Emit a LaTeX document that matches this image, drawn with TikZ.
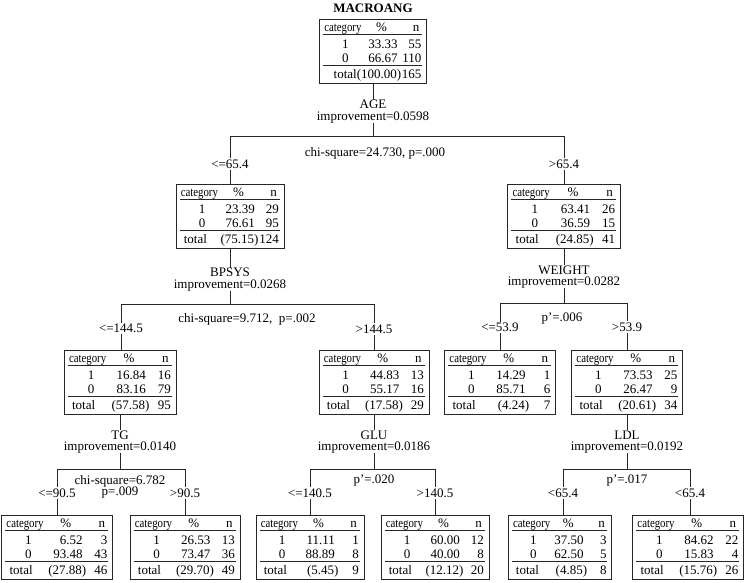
\documentclass[tikz,border=0pt]{standalone}
\usepackage{fontspec}
\setmainfont{Liberation Serif}
\usepackage{graphicx}
\tikzset{
  bx/.style={draw=black!85, line width=0.75pt, minimum height=64pt, inner sep=0pt, anchor=north},
  tx/.style={inner sep=0pt, font=\fontsize{13}{13}\selectfont},
  rl/.style={draw=black!85, line width=0.6pt},
  cn/.style={draw=black!85, line width=0.6pt},
  lab/.style={inner sep=0pt, font=\fontsize{13}{13}\selectfont, anchor=base},
  cond/.style={lab, fill=white, inner sep=1.5pt},
}
\def\totword{total}
\newcommand\cbox[9]{%
  \node[bx, minimum width=#3pt] (#1) at (#2) {};
  \begin{scope}[shift={(#1.north west)}]
    \pgfmathsetmacro\sc{#3/108}
    \node[tx, anchor=base west] (#1-c) at (5*\sc,12.5) {\scalebox{0.83}[1]{category}};
    \node[tx, anchor=base] (#1-o) at (26.5*\sc,29) {1};
    \node[tx, anchor=base] (#1-z) at (26.5*\sc,43) {0};
    \node[tx, anchor=base] (#1-ph) at (63*\sc,12.5) {\%};
    \node[tx, anchor=base east] (#1-p1) at (79.5*\sc,29) {#4};
    \node[tx, anchor=base east] (#1-p2) at (79.5*\sc,43) {#6};
    \node[tx, anchor=base] (#1-nh) at (98*\sc,12.5) {n};
    \node[tx, anchor=base east] (#1-n1) at (103.5*\sc,29) {#5};
    \node[tx, anchor=base east] (#1-n2) at (103.5*\sc,43) {#7};
    \node[tx, anchor=base west] (#1-t) at (8*\sc,59.5) {\totword};
    \node[tx, anchor=base east] (#1-tp) at (83*\sc,59.5) {#8};
    \node[tx, anchor=base east] (#1-tn) at (103.5*\sc,59.5) {#9};
    \draw[rl] (4,15.5) -- (#3-4,15.5);
    \draw[rl] (4,46.5) -- (#3-4,46.5);
  \end{scope}}
\begin{document}
\begin{tikzpicture}[x=1pt,y=-1pt]
\useasboundingbox (0,0) rectangle (745,582);
% root
\node[lab, font=\fontsize{13}{13}\selectfont\bfseries] (title) at (373,12.5) {MACROANG};
\def\totword{}
\cbox{R}{373,19}{107}{33.33}{55}{66.67}{110}{total(100.00)\hspace{2.5pt}}{165}
\def\totword{total}
% level 1
\cbox{A}{230,184}{108}{23.39}{29}{76.61}{95}{(75.15)}{124}
\cbox{B}{564,184}{113}{63.41}{26}{36.59}{15}{(24.85)}{41}
% level 2
\cbox{C}{120,350}{112}{16.84}{16}{83.16}{79}{(57.58)}{95}
\cbox{D}{374,350}{110}{44.83}{13}{55.17}{16}{(17.58)}{29}
\cbox{E}{500,350}{111}{14.29}{1}{85.71}{6}{(4.24)}{7}
\cbox{F}{627,350}{111}{73.53}{25}{26.47}{9}{(20.61)}{34}
% leaves
\cbox{G}{57,515}{111}{6.52}{3}{93.48}{43}{(27.88)}{46}
\cbox{H}{185,515}{110}{26.53}{13}{73.47}{36}{(29.70)}{49}
\cbox{I}{310,515}{108}{11.11}{1}{88.89}{8}{(5.45)}{9}
\cbox{J}{435,515}{108}{60.00}{12}{40.00}{8}{(12.12)}{20}
\cbox{K}{560,515}{103}{37.50}{3}{62.50}{5}{(4.85)}{8}
\cbox{L}{688,515}{111}{84.62}{22}{15.83}{4}{(15.76)}{26}

% split labels
\node[lab] (age) at (373,108.5) {AGE};
\node[lab] (agei) at (373,120) {improvement=0.0598};
\node[lab] (agec) at (375,156) {chi-square=24.730, p=.000};
\node[lab] (bp) at (230,276.5) {BPSYS};
\node[lab] (bpi) at (230,288) {improvement=0.0268};
\node[lab] (bpc) at (247,322.7) {chi-square=9.712,\ \ p=.002};
\node[lab] (wt) at (564,274) {WEIGHT};
\node[lab] (wti) at (564,285.5) {improvement=0.0282};
\node[lab] (wtc) at (562,321.7) {p'=.006};
\node[lab] (tg) at (120,439) {TG};
\node[lab] (tgi) at (120,450.5) {improvement=0.0140};
\node[lab] (tgc) at (120,484) {chi-square=6.782};
\node[lab] (tgp) at (120,495.5) {p=.009};
\node[lab] (glu) at (374,439) {GLU};
\node[lab] (glui) at (374,450.5) {improvement=0.0186};
\node[lab] (gluc) at (374,483.7) {p'=.020};
\node[lab] (ldl) at (627,439) {LDL};
\node[lab] (ldli) at (627,450.5) {improvement=0.0192};
\node[lab] (ldlc) at (627,483.7) {p'=.017};

% split coordinates
\coordinate (ageL) at (230,136); \coordinate (ageR) at (564,136);
\coordinate (bpL) at (121,304);  \coordinate (bpR) at (374,304);
\coordinate (wtL) at (500,303);  \coordinate (wtR) at (627,303);
\coordinate (tgL) at (57,469);   \coordinate (tgR) at (185,469);
\coordinate (gluL) at (310,469); \coordinate (gluR) at (435,469);
\coordinate (ldlL) at (563,469); \coordinate (ldlR) at (690,469);

% connectors
\draw[cn] (R.south) -- (R.south |- age.north);
\draw[cn] (agei.south) -- (agei.south |- ageL);
\draw[cn] (ageL) -- (ageR);
\draw[cn] (ageL) -- (ageL |- A.north);
\draw[cn] (ageR) -- (ageR |- B.north);

\draw[cn] (A.south) -- (A.south |- bp.north);
\draw[cn] (bpi.south) -- (bpi.south |- bpL);
\draw[cn] (bpL) -- (bpR);
\draw[cn] (bpL) -- (bpL |- C.north);
\draw[cn] (bpR) -- (bpR |- D.north);

\draw[cn] (B.south) -- (B.south |- wt.north);
\draw[cn] (wti.south) -- (wti.south |- wtL);
\draw[cn] (wtL) -- (wtR);
\draw[cn] (wtL) -- (wtL |- E.north);
\draw[cn] (wtR) -- (wtR |- F.north);

\draw[cn] (C.south) -- (C.south |- tg.north);
\draw[cn] (tgi.south) -- (tgi.south |- tgL);
\draw[cn] (tgL) -- (tgR);
\draw[cn] (tgL) -- (tgL |- G.north);
\draw[cn] (tgR) -- (tgR |- H.north);

\draw[cn] (D.south) -- (D.south |- glu.north);
\draw[cn] (glui.south) -- (glui.south |- gluL);
\draw[cn] (gluL) -- (gluR);
\draw[cn] (gluL) -- (gluL |- I.north);
\draw[cn] (gluR) -- (gluR |- J.north);

\draw[cn] (F.south) -- (F.south |- ldl.north);
\draw[cn] (ldli.south) -- (ldli.south |- ldlL);
\draw[cn] (ldlL) -- (ldlR);
\draw[cn] (ldlL) -- (ldlL |- K.north);
\draw[cn] (ldlR) -- (ldlR |- L.north);

% condition labels on stems
\node[cond] (c1) at (230,168.4) {<=65.4};
\node[cond] (c2) at (564,168.4) {>65.4};
\node[cond] (c3) at (121,332.7) {<=144.5};
\node[cond] (c4) at (374,333.5) {>144.5};
\node[cond] (c5) at (500,331.7) {<=53.9};
\node[cond] (c6) at (627,331.1) {>53.9};
\node[cond] (c7) at (57,497) {<=90.5};
\node[cond] (c8) at (185,497) {>90.5};
\node[cond] (c9) at (310,497) {<=140.5};
\node[cond] (c10) at (435,497) {>140.5};
\node[cond] (c11) at (563,497) {<65.4};
\node[cond] (c12) at (690,497) {<65.4};
\end{tikzpicture}
\end{document}
